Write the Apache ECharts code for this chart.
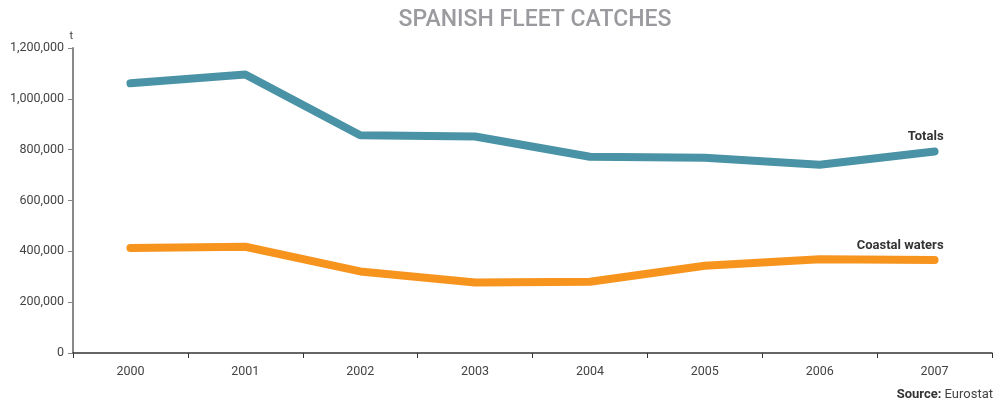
<!DOCTYPE html>
<html><head><meta charset="utf-8">
<script src="https://cdn.jsdelivr.net/npm/echarts@6/dist/echarts.min.js"></script>
<style>html,body{margin:0;padding:0;background:#fff}#c{width:1000px;height:404px}</style>
</head><body><div id="c"></div>
<script>
const years = ['2000','2001','2002','2003','2004','2005','2006','2007'];
const totals = [1061000, 1096000, 857000, 852000, 772000, 768000, 741000, 793000];
const coastal = [413000, 418000, 321000, 277000, 280000, 343000, 369000, 366000];
const seriesNames = ['Totals', 'Coastal waters'];
const titleText = 'SPANISH FLEET CATCHES';
const unitLabel = 't';

function endLabel(name) {
  return { show: true, formatter: name, align: 'right', verticalAlign: 'bottom', offset: [1, -8],
    color: '#333', fontWeight: 'bold', fontSize: 13, fontFamily: 'Roboto' };
}

const chart = echarts.init(document.getElementById('c'), null, {renderer: 'canvas'});
chart.setOption({
  animation: false,
  title: { text: titleText, left: 530, textAlign: 'center', top: 4,
    textStyle: { color: '#9b9b9f', fontSize: 23, fontWeight: 500, fontFamily: 'Roboto' } },
  grid: { left: 73, right: 8, top: 48, bottom: 51 },
  xAxis: {
    type: 'category', data: years, boundaryGap: true,
    axisLine: { lineStyle: { color: '#333', width: 1.5 } },
    axisTick: { show: true, length: 5, lineStyle: { color: '#333' } },
    axisLabel: { color: '#444', fontSize: 12.5, fontFamily: 'Roboto', margin: 12 }
  },
  yAxis: {
    type: 'value', min: 0, max: 1200000, interval: 200000,
    name: unitLabel, nameLocation: 'end', nameGap: 6,
    nameTextStyle: { color: '#444', fontSize: 11, fontFamily: 'Roboto', align: 'right' },
    splitLine: { show: false },
    axisLine: { show: true, lineStyle: { color: '#888', width: 2 } },
    axisTick: { show: true, length: 5, lineStyle: { color: '#888' } },
    axisLabel: { color: '#444', fontSize: 12.5, fontFamily: 'Roboto', margin: 9,
      formatter: v => v.toLocaleString('en-US') }
  },
  series: [
    { name: seriesNames[0], type: 'line', data: totals, showSymbol: false, symbol: 'none',
      endLabel: endLabel(seriesNames[0]),
      lineStyle: { color: '#4a93a6', width: 8, cap: 'round', join: 'round' } },
    { name: seriesNames[1], type: 'line', data: coastal, showSymbol: false, symbol: 'none',
      endLabel: endLabel(seriesNames[1]),
      lineStyle: { color: '#f7941d', width: 8, cap: 'round', join: 'round' } }
  ],
  graphic: [{
    type: 'text', right: 7, top: 388,
    style: { text: '{b|Source:} Eurostat', fill: '#444', font: '13px Roboto',
      rich: { b: { fontWeight: 'bold', fontSize: 13, fontFamily: 'Roboto', fill: '#333' } } }
  }]
});
</script></body></html>
